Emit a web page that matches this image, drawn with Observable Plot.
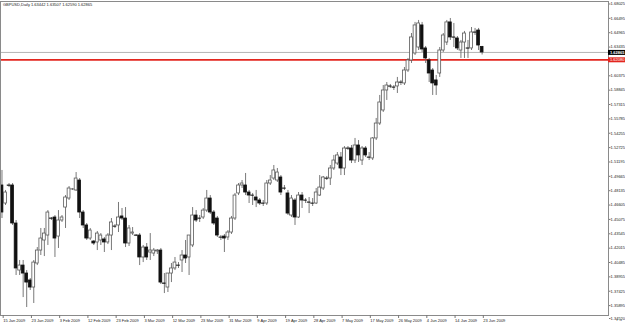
<!DOCTYPE html>
<html><head><meta charset="utf-8">
<script src="https://cdn.jsdelivr.net/npm/d3@7"></script>
<script src="https://cdn.jsdelivr.net/npm/@observablehq/plot@0.6"></script>
<style>
html,body{margin:0;padding:0;background:#fff;}
#chart{width:625px;height:323px;overflow:hidden;}
</style></head><body><div id="chart"></div>
<script>
const title = "GBPUSD,Daily 1.63442 1.63507 1.62590 1.62865";
const dateLabels = ["15 Jan 2009","23 Jan 2009","3 Feb 2009","12 Feb 2009","23 Feb 2009","3 Mar 2009","12 Mar 2009","23 Mar 2009","31 Mar 2009","9 Apr 2009","19 Apr 2009","28 Apr 2009","7 May 2009","17 May 2009","26 May 2009","4 Jun 2009","14 Jun 2009","23 Jun 2009"];
const barsPerLabel = 8;
const yTicks = [1.68025,1.66495,1.64965,1.63435,1.60375,1.58845,1.57315,1.55785,1.54255,1.52725,1.51195,1.49665,1.48135,1.46605,1.45075,1.43545,1.42015,1.40485,1.38955,1.37425,1.35895,1.34520];
const lastPrice = 1.62865;
const redLevel = 1.62080;

const open = [1.4869,1.4677,1.4869,1.4869,1.4464,1.3963,1.4016,1.3931,1.3857,1.3782,1.4038,1.4176,1.4283,1.4336,1.4517,1.4528,1.4325,1.4496,1.4634,1.4730,1.4826,1.4816,1.4922,1.4581,1.4443,1.4304,1.4272,1.4262,1.4283,1.4294,1.4262,1.4336,1.4432,1.4443,1.4539,1.4517,1.4251,1.4357,1.4336,1.4336,1.4102,1.4208,1.4155,1.4144,1.4166,1.4176,1.3825,1.3782,1.3931,1.3985,1.4016,1.4070,1.4123,1.4102,1.4230,1.4549,1.4517,1.4528,1.4602,1.4730,1.4581,1.4517,1.4315,1.4325,1.4315,1.4368,1.4517,1.4784,1.4869,1.4869,1.4794,1.4762,1.4741,1.4709,1.4677,1.4677,1.4890,1.4943,1.4922,1.4954,1.4837,1.4784,1.4549,1.4709,1.4528,1.4762,1.4709,1.4688,1.4677,1.4677,1.4762,1.4837,1.4943,1.4943,1.5050,1.5103,1.5167,1.5050,1.5263,1.5263,1.5135,1.5295,1.5135,1.5263,1.5167,1.5157,1.5370,1.5529,1.5668,1.5881,1.5924,1.5913,1.5924,1.5966,1.5956,1.6094,1.6201,1.6275,1.6339,1.6574,1.6329,1.6201,1.6094,1.5988,1.6062,1.6307,1.6392,1.6606,1.6446,1.6435,1.6307,1.6392,1.6329,1.6329,1.6499,1.6520,1.63442];
const high = [1.5029,1.4816,1.4890,1.4890,1.4496,1.4070,1.4070,1.3963,1.3878,1.4070,1.4208,1.4411,1.4411,1.4602,1.4528,1.4549,1.4602,1.4549,1.4762,1.4858,1.4837,1.5007,1.4943,1.4602,1.4464,1.4411,1.4283,1.4379,1.4357,1.4315,1.4357,1.4517,1.4453,1.4688,1.4624,1.4634,1.4443,1.4421,1.4347,1.4357,1.4230,1.4251,1.4357,1.4198,1.4187,1.4198,1.3931,1.3931,1.4038,1.4102,1.4048,1.4176,1.4283,1.4336,1.4634,1.4602,1.4549,1.4624,1.4816,1.4762,1.4602,1.4539,1.4336,1.4347,1.4389,1.4539,1.4784,1.4890,1.4922,1.4997,1.4816,1.4784,1.4816,1.4730,1.4709,1.4922,1.4975,1.5082,1.5050,1.4975,1.4869,1.4816,1.4762,1.4730,1.4794,1.4794,1.4730,1.4741,1.4730,1.4837,1.4975,1.4965,1.4965,1.5082,1.5189,1.5220,1.5220,1.5284,1.5284,1.5295,1.5370,1.5348,1.5284,1.5284,1.5220,1.5380,1.5583,1.5828,1.5934,1.5966,1.5945,1.5934,1.6020,1.5988,1.6126,1.6222,1.6488,1.6606,1.6627,1.6606,1.6350,1.6222,1.6115,1.6041,1.6339,1.6488,1.6627,1.6648,1.6595,1.6456,1.6414,1.6510,1.6414,1.6552,1.6542,1.6542,1.63507];
const low = [1.4517,1.4656,1.4847,1.4443,1.3910,1.3910,1.3675,1.3569,1.3750,1.3612,1.4016,1.4123,1.4112,1.4230,1.4496,1.4102,1.4198,1.4475,1.4411,1.4709,1.4816,1.4805,1.4517,1.4411,1.4283,1.4283,1.4230,1.4176,1.4230,1.4155,1.4240,1.4176,1.4411,1.4368,1.4496,1.4208,1.4219,1.4336,1.4325,1.4016,1.4048,1.4070,1.4070,1.4112,1.4134,1.3814,1.3718,1.3729,1.3835,1.3963,1.3985,1.3942,1.4038,1.3910,1.4208,1.4475,1.4475,1.4507,1.4581,1.4560,1.4443,1.4315,1.4283,1.4155,1.4283,1.4347,1.4496,1.4762,1.4837,1.4762,1.4677,1.4656,1.4634,1.4656,1.4645,1.4656,1.4869,1.4922,1.4901,1.4762,1.4816,1.4549,1.4528,1.4443,1.4517,1.4624,1.4677,1.4570,1.4645,1.4666,1.4752,1.4816,1.4922,1.4869,1.5029,1.5082,1.4975,1.4975,1.5242,1.5103,1.5103,1.5114,1.5082,1.5167,1.5135,1.5135,1.5348,1.5508,1.5647,1.5775,1.5902,1.5881,1.5849,1.5934,1.5934,1.6073,1.6169,1.6254,1.6307,1.6286,1.6169,1.5966,1.5828,1.5828,1.6020,1.6286,1.6360,1.6414,1.6339,1.6307,1.6222,1.6222,1.6222,1.6307,1.6467,1.6307,1.62590];
const close = [1.4581,1.4794,1.4866,1.4464,1.3985,1.4016,1.3931,1.3835,1.3782,1.4048,1.4176,1.4304,1.4357,1.4581,1.4515,1.4304,1.4496,1.4528,1.4741,1.4837,1.4828,1.4943,1.4581,1.4443,1.4304,1.4389,1.4251,1.4357,1.4336,1.4262,1.4336,1.4475,1.4430,1.4528,1.4517,1.4251,1.4411,1.4368,1.4334,1.4102,1.4208,1.4102,1.4176,1.4176,1.4176,1.3835,1.3822,1.3931,1.3985,1.4048,1.4014,1.4123,1.4091,1.4336,1.4549,1.4496,1.4515,1.4602,1.4730,1.4581,1.4464,1.4336,1.4313,1.4304,1.4368,1.4517,1.4762,1.4869,1.4890,1.4794,1.4762,1.4760,1.4709,1.4677,1.4675,1.4890,1.4922,1.5029,1.5007,1.4794,1.4835,1.4570,1.4730,1.4528,1.4762,1.4709,1.4707,1.4686,1.4675,1.4794,1.4847,1.4954,1.4941,1.5050,1.5135,1.5189,1.5050,1.5263,1.5261,1.5135,1.5295,1.5189,1.5263,1.5189,1.5165,1.5370,1.5529,1.5753,1.5881,1.5934,1.5922,1.5911,1.5966,1.5964,1.6094,1.6201,1.6446,1.6574,1.6595,1.6318,1.6222,1.6062,1.5956,1.5934,1.6307,1.6467,1.6606,1.6446,1.6444,1.6329,1.6392,1.6488,1.6327,1.6499,1.6497,1.6360,1.62865];

const bars = open.map((o, i) => ({i, o, h: high[i], l: low[i], c: close[i], up: close[i] >= o}));
const labelIdx = dateLabels.map((_, k) => k * barsPerLabel);
const xDomain = [-0.42, 171.8];
const boxW = 5;

const chart = Plot.plot({
  width: 625, height: 323,
  marginLeft: 0, marginRight: 17, marginTop: 1, marginBottom: 8,
  x: {type: "linear", domain: xDomain, axis: null},
  y: {domain: [1.3484, 1.6829], axis: null},
  style: {background: "#fff", fontFamily: "'Liberation Sans', Arial, sans-serif", fontSize: "4px", color: "#222", overflow: "visible"},
  marks: [
    Plot.ruleY([lastPrice], {stroke: "#b4b4b4", strokeWidth: 1}),
    Plot.ruleY([redLevel], {stroke: "#e3261f", strokeWidth: 1.8}),
    Plot.ruleX(bars, {x: "i", y1: "l", y2: "h", stroke: "#6a6a6a", strokeWidth: 0.9}),
    Plot.rect(bars, {x1: d => d.i - 0.4, x2: d => d.i + 0.4, y1: "o", y2: "c", fill: d => d.up ? "#fff" : "#111", stroke: d => d.up ? "#5a5a5a" : "#111", strokeWidth: 0.8}),
    Plot.frame({stroke: "#8a8a8a"}),
    Plot.axisY({ticks: yTicks, anchor: "right", tickSize: 1.5, tickPadding: 0.6, tickFormat: d => d.toFixed(5), stroke: "#777"}),
    Plot.axisX({ticks: labelIdx, anchor: "bottom", tickSize: 3, tickPadding: 1, textAnchor: "start", dx: 1.2, tickFormat: d => dateLabels[d / barsPerLabel], stroke: "#777"}),
    Plot.ruleY([lastPrice], {x1: xDomain[1], x2: xDomain[1] + boxW, stroke: "#000", strokeWidth: 5}),
    Plot.text([lastPrice], {x: xDomain[1], y: d => d, text: d => d.toFixed(5), textAnchor: "start", dx: 1.5, fill: "#fff", fontWeight: "bold"}),
    Plot.ruleY([redLevel], {x1: xDomain[1], x2: xDomain[1] + boxW, stroke: "#e3261f", strokeWidth: 5}),
    Plot.text([redLevel], {x: xDomain[1], y: d => d, text: d => d.toFixed(5), textAnchor: "start", dx: 1.5, fill: "#fff"}),
    Plot.text([title], {frameAnchor: "top-left", dx: 2.5, dy: 2, textAnchor: "start", lineAnchor: "top", fill: "#222"})
  ]
});
document.getElementById("chart").appendChild(chart);
</script></body></html>
